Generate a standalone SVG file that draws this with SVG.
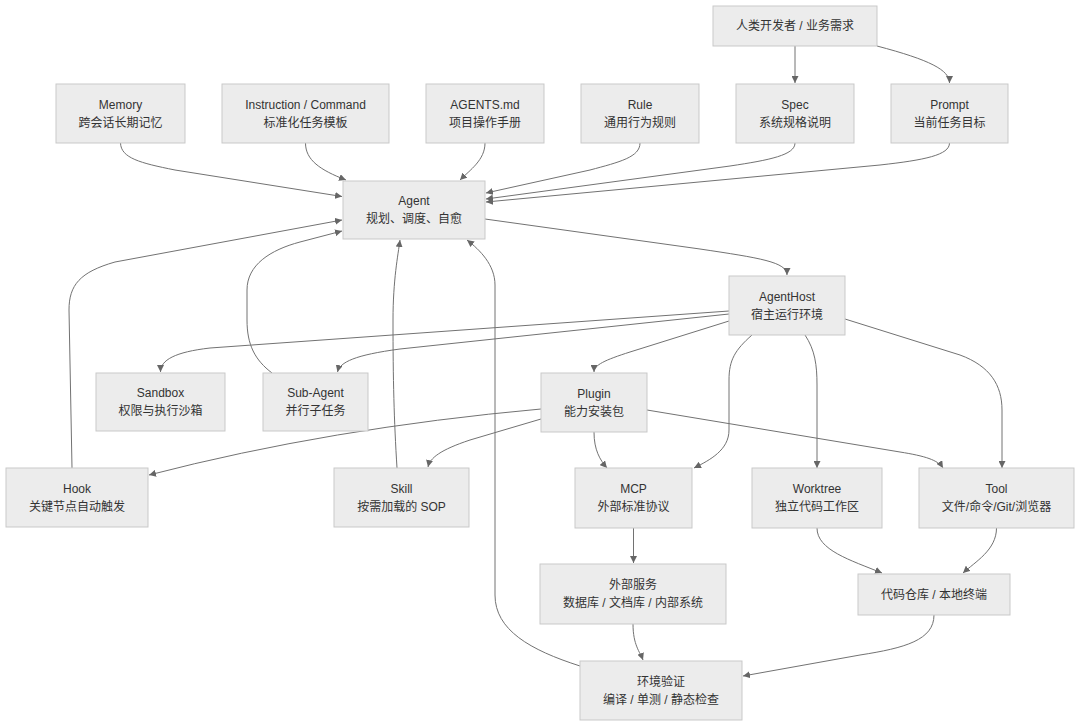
<svg xmlns="http://www.w3.org/2000/svg" width="1080" height="726" viewBox="0 0 1080 726">
<style>
.n rect{fill:#ececec;stroke:#c9c9c9;stroke-width:1}
.n text{font-family:"Liberation Sans","Noto Sans CJK SC",sans-serif;font-size:12px;fill:#333;text-anchor:middle;dominant-baseline:central}
.e path{fill:none;stroke:#727272;stroke-width:1;marker-end:url(#arr)}
</style>
<defs>
<marker id="arr" viewBox="0 0 10 10" refX="10" refY="5" markerWidth="7" markerHeight="7" orient="auto" markerUnits="userSpaceOnUse"><path d="M0,0 L10,5 L0,10 z" fill="#666"/></marker>
</defs>
<rect width="1080" height="726" fill="#fff"/>
<g id="connectors" class="e">
<path d="M120.5,143 C121,158 140,163 175,170 L342,196.5"/>
<path d="M305.5,143 C305.5,160 320,170 346,180"/>
<path d="M485,143 C485,160 470,170 460,180"/>
<path d="M640,143 C640,157 620,162 590,170 L486,193"/>
<path d="M795,143 C795,155 770,160 730,166 L486,199"/>
<path d="M949.5,143 C949.5,155 925,160 880,165 L486,202"/>
<path d="M72,468 L69,310 C69,285 80,272 115,262 L342,220"/>
<path d="M272,373 C255,360 247,345 247,320 L247,290 C247,265 270,250 300,242 L342,231"/>
<path d="M397,468 C394,420 393,380 393,320 C393,280 398,255 400,240"/>
<path d="M580,666 C530,650 495,630 495,595 L495,285 C495,265 480,250 467,240"/>
<path d="M485,219 L700,249 C760,258 787,262 787,275"/>
<path d="M729,311 L210,348 C175,352 160.5,360 160.5,372"/>
<path d="M729,314 L400,349 C355,355 340,362 337.5,372"/>
<path d="M729,321 L630,352 C605,360 594,365 594,372"/>
<path d="M752,335 C735,350 729,360 729,380 L729,430 C729,450 710,460 694,468"/>
<path d="M805,335 C815,350 817,365 817,385 L817,468"/>
<path d="M845,319 L960,355 C990,366 1002,385 1002,410 L1002,468"/>
<path d="M541,409 Q330,428 149,475"/>
<path d="M541,419 L470,440 C440,450 430,458 428,467"/>
<path d="M594,432 C594,450 600,460 607,468"/>
<path d="M647,410 L900,452 C925,456 938,460 943,468"/>
<path d="M795,46 L795,83"/>
<path d="M877,46 C930,60 949.5,70 949.5,83"/>
<path d="M633.5,528 L633.5,563"/>
<path d="M817,528 C817,550 850,560 882,573"/>
<path d="M996.5,528 C996.5,550 975,562 963,573"/>
<path d="M633,624 C633,645 640,652 643,660"/>
<path d="M934,615 C934,640 905,648 860,655 L743,676"/>
</g>
<g id="human" class="n"><rect x="713" y="6" width="164" height="40"/><text x="795" y="26">人类开发者 / 业务需求</text></g>
<g id="memory" class="n"><rect x="56" y="84" width="129" height="59"/><text x="120.5" y="104.5">Memory</text><text x="120.5" y="122.5">跨会话长期记忆</text></g>
<g id="instruction" class="n"><rect x="222" y="84" width="167" height="59"/><text x="305.5" y="104.5">Instruction / Command</text><text x="305.5" y="122.5">标准化任务模板</text></g>
<g id="agentsmd" class="n"><rect x="426" y="84" width="118" height="59"/><text x="485" y="104.5">AGENTS.md</text><text x="485" y="122.5">项目操作手册</text></g>
<g id="rule" class="n"><rect x="581" y="84" width="118" height="59"/><text x="640" y="104.5">Rule</text><text x="640" y="122.5">通用行为规则</text></g>
<g id="spec" class="n"><rect x="736" y="84" width="118" height="59"/><text x="795" y="104.5">Spec</text><text x="795" y="122.5">系统规格说明</text></g>
<g id="prompt" class="n"><rect x="891" y="84" width="117" height="59"/><text x="949.5" y="104.5">Prompt</text><text x="949.5" y="122.5">当前任务目标</text></g>
<g id="agent" class="n"><rect x="343" y="181" width="142" height="58"/><text x="414" y="201">Agent</text><text x="414" y="219">规划、调度、自愈</text></g>
<g id="agenthost" class="n"><rect x="729" y="276" width="116" height="59"/><text x="787" y="296.5">AgentHost</text><text x="787" y="314.5">宿主运行环境</text></g>
<g id="sandbox" class="n"><rect x="96" y="373" width="129" height="58"/><text x="160.5" y="393">Sandbox</text><text x="160.5" y="411">权限与执行沙箱</text></g>
<g id="subagent" class="n"><rect x="263" y="373" width="105" height="58"/><text x="315.5" y="393">Sub-Agent</text><text x="315.5" y="411">并行子任务</text></g>
<g id="plugin" class="n"><rect x="541" y="373" width="106" height="59"/><text x="594" y="393.5">Plugin</text><text x="594" y="411.5">能力安装包</text></g>
<g id="hook" class="n"><rect x="6" y="468" width="142" height="59"/><text x="77" y="488.5">Hook</text><text x="77" y="506.5">关键节点自动触发</text></g>
<g id="skill" class="n"><rect x="334" y="468" width="135" height="59"/><text x="401.5" y="488.5">Skill</text><text x="401.5" y="506.5">按需加载的 SOP</text></g>
<g id="mcp" class="n"><rect x="575" y="468" width="117" height="60"/><text x="633.5" y="489">MCP</text><text x="633.5" y="507">外部标准协议</text></g>
<g id="worktree" class="n"><rect x="752" y="468" width="130" height="60"/><text x="817" y="489">Worktree</text><text x="817" y="507">独立代码工作区</text></g>
<g id="tool" class="n"><rect x="919" y="468" width="155" height="60"/><text x="996.5" y="489">Tool</text><text x="996.5" y="507">文件/命令/Git/浏览器</text></g>
<g id="external" class="n"><rect x="540" y="564" width="186" height="60"/><text x="633" y="585">外部服务</text><text x="633" y="603">数据库 / 文档库 / 内部系统</text></g>
<g id="repo" class="n"><rect x="858" y="574" width="152" height="41"/><text x="934" y="594.5">代码仓库 / 本地终端</text></g>
<g id="verify" class="n"><rect x="580" y="661" width="162" height="59"/><text x="661" y="681.5">环境验证</text><text x="661" y="699.5">编译 / 单测 / 静态检查</text></g>
</svg>
